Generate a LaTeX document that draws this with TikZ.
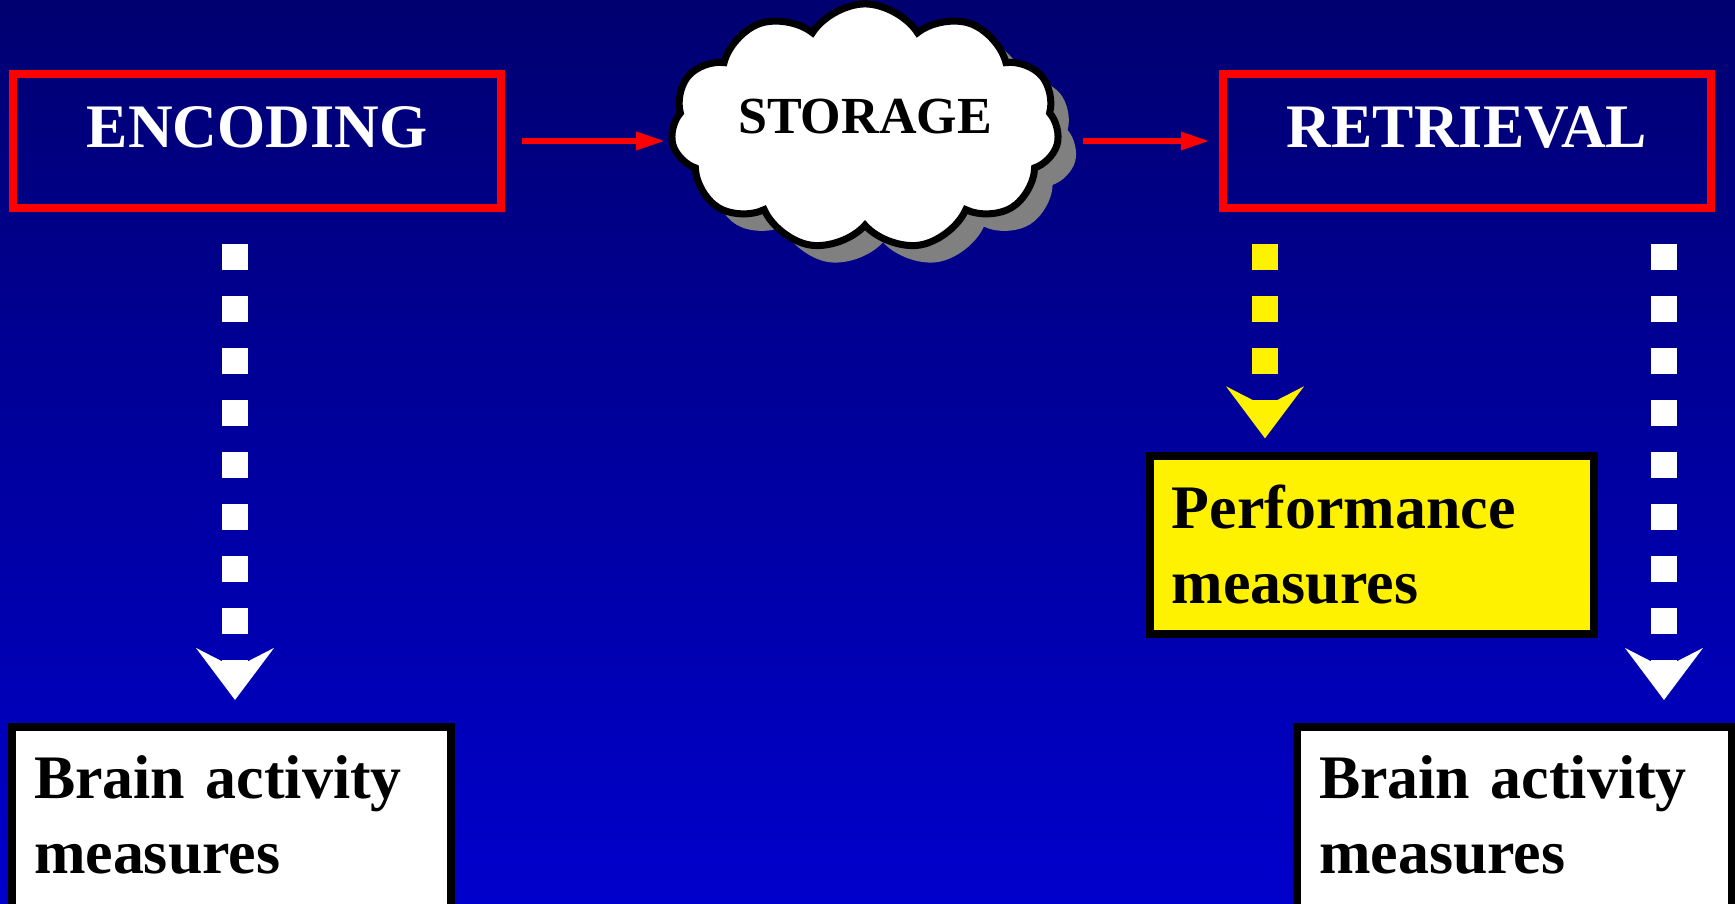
\documentclass[tikz,border=0pt]{standalone}
\usepackage{fontspec}
\setmainfont{Liberation Serif}
\usetikzlibrary{arrows.meta, shapes.symbols, shadows}

\definecolor{navytop}{RGB}{0,0,112}
\definecolor{navybot}{RGB}{0,0,204}
\definecolor{puffshadow}{RGB}{128,128,128}

\tikzset{
  stagebox/.style  = {rectangle, draw=red, line width=0.08cm, inner sep=0pt,
                      text=white, font=\bfseries\fontsize{17.6}{21}\selectfont,
                      text height=0.44cm, text depth=0.30cm,
                      minimum width=4.88cm, minimum height=1.34cm},
  measbox/.style   = {rectangle, draw=black, line width=0.08cm, align=left,
                      inner xsep=0.22cm, inner ysep=0.29cm,
                      font=\bfseries\fontsize{17.6}{21.3}\selectfont},
  whitebox/.style  = {measbox, fill=white},
  yellowbox/.style = {measbox, fill=yellow},
  puffbox/.style   = {cloud, cloud puffs=11, cloud puff arc=115,
                      cloud ignores aspect,
                      draw=black, fill=white, line width=0.07cm, inner sep=0pt,
                      font=\bfseries\fontsize{14.8}{18}\selectfont,
                      text height=0.36cm, text depth=0.23cm,
                      drop shadow={shadow xshift=0.18cm, shadow yshift=-0.17cm,
                                   fill=puffshadow, opacity=1}},
  redarr/.style    = {-{Triangle[length=0.29cm, width=0.17cm]}, draw=red,
                      line width=0.06cm},
  dotarr/.style    = {-{Stealth[length=0.52cm, width=0.78cm, inset=0.2cm,
                      line width=0pt]}, line width=0.26cm,
                      dash pattern=on 0.26cm off 0.26cm,
                      shorten <=0.32cm},
}

\begin{document}
\begin{tikzpicture}[x=0.01cm, y=-0.01cm]
  \useasboundingbox (0,0) rectangle (1735,904);
  \clip (0,0) rectangle (1735,904);
  \shade[top color=navytop, bottom color=navybot] (0,0) rectangle (1735,904);

  % stages across the top
  \node[stagebox] (enc) at (257,141) {ENCODING};
  \node[puffbox, minimum width=3.88cm, minimum height=2.46cm] (store) at (865,127) {STORAGE};
  \node[stagebox] (retr) at (1467,141) {RETRIEVAL};

  \draw[redarr, shorten <=0.17cm, shorten >=0.04cm] (enc.east) -- (enc.east -| store.west);
  \draw[redarr, shorten <=0.22cm, shorten >=0.09cm] (retr.west -| store.east) -- (retr.west);

  % measures below
  \node[whitebox, anchor=north west, text width=3.95cm, text depth=1.5cm] (brainL)
    at (8,723) {Brain activity\\measures};
  \node[yellowbox, text width=4.0cm] (perf) at (1372,545) {Performance\\measures};
  \node[whitebox, anchor=north west, text width=3.91cm, text depth=1.5cm] (brainR)
    at (1293,723) {Brain activity\\measures};

  % dotted drops
  \coordinate (encdrop) at (235,0);
  \coordinate (perfdrop) at (1265,0);
  \coordinate (braindrop) at (1664,0);
  \draw[dotarr, white, shorten >=0.23cm] (enc.south -| encdrop) -- (brainL.north -| encdrop);
  \draw[dotarr, yellow, shorten >=0.14cm] (retr.south -| perfdrop) -- (perf.north -| perfdrop);
  \draw[dotarr, white, shorten >=0.23cm] (retr.south -| braindrop) -- (brainR.north -| braindrop);
\end{tikzpicture}
\end{document}
